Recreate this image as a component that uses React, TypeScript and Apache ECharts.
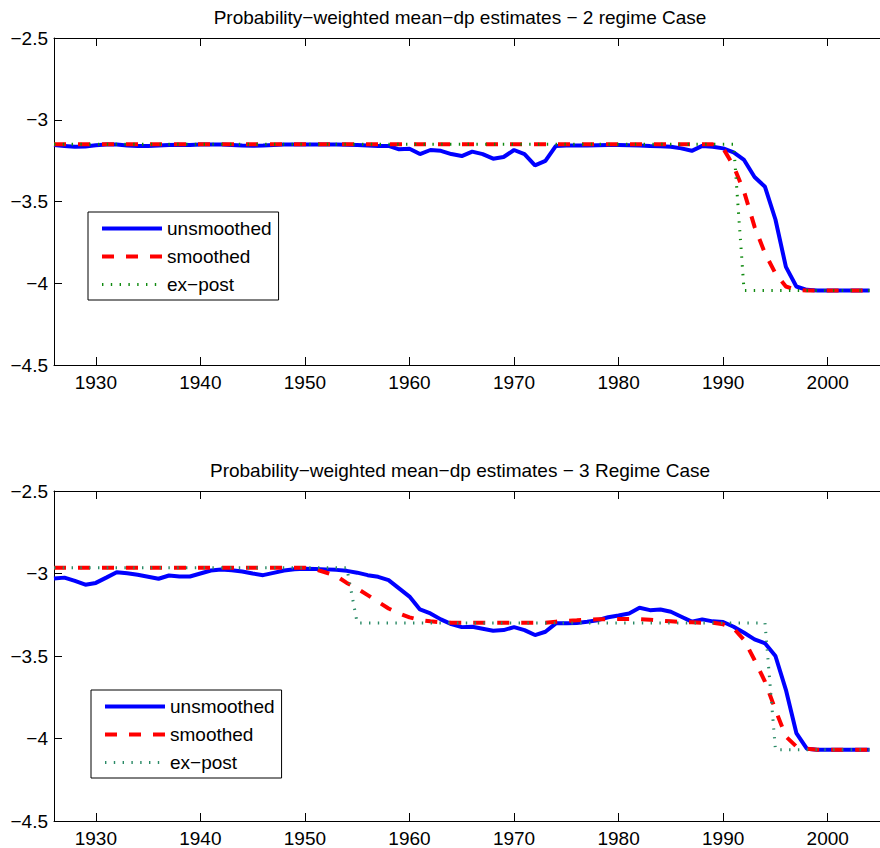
import React, { useEffect, useRef } from "react";
import * as echarts from "echarts";

const FONT = "'Liberation Sans', Arial, Helvetica, sans-serif";

const START_YEAR = 1926;
const END_YEAR = 2004;
const YEARS: number[] = [];
for (let y = START_YEAR; y <= END_YEAR; y++) YEARS.push(y);

const X_TICKS = [1930, 1940, 1950, 1960, 1970, 1980, 1990, 2000];
const TITLE_2 = "Probability\u2212weighted mean\u2212dp estimates \u2212 2 regime Case";
const TITLE_3 = "Probability\u2212weighted mean\u2212dp estimates \u2212 3 Regime Case";
const NAMES = ["unsmoothed", "smoothed", "ex\u2212post"];

// 2-regime case, 1926..2004
const UNSMOOTHED_2 = [
  -3.155, -3.160, -3.165, -3.163, -3.156, -3.152, -3.152, -3.157, -3.160, -3.160,
  -3.158, -3.155, -3.153, -3.154, -3.152, -3.152, -3.152, -3.154, -3.157, -3.159,
  -3.157, -3.154, -3.152, -3.151, -3.151, -3.151, -3.151, -3.152, -3.153, -3.155,
  -3.158, -3.160, -3.160, -3.181, -3.177, -3.210, -3.185, -3.190, -3.210, -3.222,
  -3.195, -3.210, -3.238, -3.228, -3.185, -3.210, -3.279, -3.252, -3.160, -3.158,
  -3.158, -3.157, -3.156, -3.155, -3.155, -3.156, -3.157, -3.160, -3.162, -3.165,
  -3.175, -3.190, -3.160, -3.165, -3.175, -3.200, -3.246, -3.350, -3.410, -3.610,
  -3.900, -4.020, -4.040, -4.045, -4.045, -4.045, -4.045, -4.045, -4.045,
];
const SMOOTHED_2 = [
  -3.15, -3.15, -3.15, -3.15, -3.15, -3.15, -3.15, -3.15, -3.15, -3.15,
  -3.15, -3.15, -3.15, -3.15, -3.15, -3.15, -3.15, -3.15, -3.15, -3.15,
  -3.15, -3.15, -3.15, -3.15, -3.15, -3.15, -3.15, -3.15, -3.15, -3.15,
  -3.15, -3.15, -3.15, -3.15, -3.15, -3.15, -3.15, -3.15, -3.15, -3.15,
  -3.15, -3.15, -3.15, -3.15, -3.15, -3.15, -3.15, -3.15, -3.15, -3.15,
  -3.15, -3.15, -3.15, -3.15, -3.15, -3.15, -3.15, -3.15, -3.15, -3.15,
  -3.15, -3.15, -3.15, -3.15, -3.175, -3.283, -3.440, -3.654, -3.817, -3.940,
  -4.020, -4.040, -4.045, -4.045, -4.045, -4.045, -4.045, -4.045, -4.045,
];
const EXPOST_2 = [
  -3.15, -3.15, -3.15, -3.15, -3.15, -3.15, -3.15, -3.15, -3.15, -3.15,
  -3.15, -3.15, -3.15, -3.15, -3.15, -3.15, -3.15, -3.15, -3.15, -3.15,
  -3.15, -3.15, -3.15, -3.15, -3.15, -3.15, -3.15, -3.15, -3.15, -3.15,
  -3.15, -3.15, -3.15, -3.15, -3.15, -3.15, -3.15, -3.15, -3.15, -3.15,
  -3.15, -3.15, -3.15, -3.15, -3.15, -3.15, -3.15, -3.15, -3.15, -3.15,
  -3.15, -3.15, -3.15, -3.15, -3.15, -3.15, -3.15, -3.15, -3.15, -3.15,
  -3.15, -3.15, -3.15, -3.15, -3.15, -3.15, -4.045, -4.045, -4.045, -4.045,
  -4.045, -4.045, -4.045, -4.045, -4.045, -4.045, -4.045, -4.045, -4.045,
];

// 3-regime case, 1926..2004
const UNSMOOTHED_3 = [
  -3.030, -3.025, -3.045, -3.068, -3.057, -3.025, -2.992, -2.999, -3.008, -3.020,
  -3.032, -3.012, -3.018, -3.018, -3.000, -2.982, -2.976, -2.980, -2.988, -3.000,
  -3.010, -2.996, -2.982, -2.974, -2.971, -2.972, -2.975, -2.978, -2.984, -2.995,
  -3.010, -3.020, -3.040, -3.090, -3.140, -3.218, -3.242, -3.278, -3.307, -3.325,
  -3.323, -3.335, -3.347, -3.343, -3.325, -3.343, -3.373, -3.353, -3.302, -3.302,
  -3.300, -3.293, -3.283, -3.265, -3.255, -3.242, -3.208, -3.222, -3.218, -3.232,
  -3.262, -3.292, -3.278, -3.290, -3.294, -3.323, -3.359, -3.399, -3.423, -3.500,
  -3.705, -3.967, -4.062, -4.068, -4.068, -4.068, -4.068, -4.068, -4.068,
];
const SMOOTHED_3 = [
  -2.965, -2.965, -2.965, -2.965, -2.965, -2.965, -2.965, -2.965, -2.965, -2.965,
  -2.965, -2.965, -2.965, -2.965, -2.965, -2.965, -2.965, -2.965, -2.965, -2.965,
  -2.965, -2.965, -2.965, -2.965, -2.965, -2.975, -2.994, -3.015, -3.057, -3.091,
  -3.131, -3.172, -3.212, -3.242, -3.266, -3.282, -3.290, -3.296, -3.298, -3.298,
  -3.298, -3.298, -3.298, -3.298, -3.298, -3.298, -3.298, -3.298, -3.292, -3.287,
  -3.284, -3.280, -3.278, -3.276, -3.276, -3.276, -3.276, -3.280, -3.286, -3.290,
  -3.294, -3.296, -3.298, -3.298, -3.308, -3.333, -3.403, -3.524, -3.655, -3.826,
  -3.988, -4.048, -4.062, -4.068, -4.068, -4.068, -4.068, -4.068, -4.068,
];
const EXPOST_3 = [
  -2.965, -2.965, -2.965, -2.965, -2.965, -2.965, -2.965, -2.965, -2.965, -2.965,
  -2.965, -2.965, -2.965, -2.965, -2.965, -2.965, -2.965, -2.965, -2.965, -2.965,
  -2.965, -2.965, -2.965, -2.965, -2.965, -2.965, -2.965, -2.965, -2.965, -3.300,
  -3.300, -3.300, -3.300, -3.300, -3.300, -3.300, -3.300, -3.300, -3.300, -3.300,
  -3.300, -3.300, -3.300, -3.300, -3.300, -3.300, -3.300, -3.300, -3.300, -3.300,
  -3.300, -3.300, -3.300, -3.300, -3.300, -3.300, -3.300, -3.300, -3.300, -3.300,
  -3.300, -3.300, -3.300, -3.300, -3.300, -3.300, -3.300, -3.300, -3.300, -4.068,
  -4.068, -4.068, -4.068, -4.068, -4.068, -4.068, -4.068, -4.068, -4.068,
];

const BLUE = "#0000ff";
const RED = "#ff0000";
const GREEN_TOP = "#108a10";
const GREEN_BOTTOM = "#2a8a66";

const blueStyle = { color: BLUE, width: 4, type: "solid" as const };
const redStyle = { color: RED, width: 4, type: [12, 12], cap: "butt" as const };
const greenStyle = (c: string) => ({ color: c, width: 3, type: [1.4, 7.4], cap: "butt" as const });
const hiddenSymbol = { color: "rgba(0,0,0,0)", borderWidth: 0, opacity: 0 };

function pairs(vals: number[]) {
  return YEARS.map((y, i) => [y, vals[i]]);
}

function mkX(gridIndex: number, position: "top" | "bottom") {
  return {
    type: "value",
    gridIndex,
    position,
    min: 1926,
    max: 2005,
    axisLine: { show: true, onZero: false, lineStyle: { color: "#000", width: 1 } },
    axisTick: { show: true, inside: true, length: 8, customValues: X_TICKS, lineStyle: { color: "#000", width: 1 } },
    axisLabel: {
      show: position === "bottom",
      customValues: X_TICKS,
      margin: 8,
      fontSize: 19,
      fontFamily: FONT,
      color: "#000",
      formatter: (v: number) => String(Math.round(v)),
    },
    splitLine: { show: false },
  };
}

function mkY(gridIndex: number) {
  return {
    type: "value",
    gridIndex,
    min: -4.5,
    max: -2.5,
    interval: 0.5,
    axisLine: { show: true, onZero: false, lineStyle: { color: "#000", width: 1 } },
    axisTick: { show: true, inside: true, length: 8, lineStyle: { color: "#000", width: 1 } },
    axisLabel: {
      margin: 6,
      fontSize: 19,
      fontFamily: FONT,
      color: "#000",
      showMinLabel: true,
      showMaxLabel: true,
      formatter: (v: number) => String(v).replace("-", "\u2212"),
    },
    splitLine: { show: false },
  };
}

function mkSeries(xIdx: number, yIdx: number, u: number[], s: number[], e: number[], green: string) {
  const base = { type: "line", xAxisIndex: xIdx, yAxisIndex: yIdx, symbol: "none", silent: true, smooth: false };
  return [
    { ...base, name: NAMES[0], data: pairs(u), lineStyle: blueStyle, itemStyle: { color: BLUE } },
    { ...base, name: NAMES[1], data: pairs(s), lineStyle: redStyle, itemStyle: { color: RED } },
    { ...base, name: NAMES[2], data: pairs(e), lineStyle: greenStyle(green), itemStyle: { color: green } },
  ];
}

function mkLegend(left: number, top: number, green: string) {
  return {
    left,
    top,
    orient: "vertical",
    padding: [7, 7, 6, 12],
    itemGap: 9,
    itemWidth: 60,
    itemHeight: 14,
    backgroundColor: "#fff",
    borderColor: "#000",
    borderWidth: 1,
    borderRadius: 0,
    selectedMode: false,
    textStyle: { fontSize: 19, fontFamily: FONT, color: "#000" },
    itemStyle: hiddenSymbol,
    data: [
      { name: NAMES[0], lineStyle: blueStyle, itemStyle: hiddenSymbol },
      { name: NAMES[1], lineStyle: redStyle, itemStyle: hiddenSymbol },
      { name: NAMES[2], lineStyle: greenStyle(green), itemStyle: hiddenSymbol },
    ],
  };
}

function titleText(text: string, y: number) {
  return {
    type: "text",
    x: 460,
    y,
    silent: true,
    style: {
      text,
      fontSize: 19,
      fontFamily: FONT,
      fill: "#000",
      align: "center",
      verticalAlign: "middle",
      textAlign: "center",
      textVerticalAlign: "middle",
    },
  };
}

export default function App() {
  const ref = useRef<HTMLDivElement>(null);
  useEffect(() => {
    if (!ref.current) return;
    const chart = echarts.init(ref.current, null, { renderer: "svg" });
    const option: any = {
      animation: false,
      backgroundColor: "#fff",
      grid: [
        { left: 54, top: 38, width: 834, height: 327 },
        { left: 54, top: 491, width: 834, height: 330 },
      ],
      xAxis: [mkX(0, "bottom"), mkX(0, "top"), mkX(1, "bottom"), mkX(1, "top")],
      yAxis: [mkY(0), mkY(1)],
      legend: [mkLegend(88, 212, GREEN_TOP), mkLegend(91, 690, GREEN_BOTTOM)],
      series: [
        ...mkSeries(0, 0, UNSMOOTHED_2, SMOOTHED_2, EXPOST_2, GREEN_TOP),
        ...mkSeries(2, 1, UNSMOOTHED_3, SMOOTHED_3, EXPOST_3, GREEN_BOTTOM),
      ],
      graphic: [titleText(TITLE_2, 17.4), titleText(TITLE_3, 470)],
    };
    chart.setOption(option);
    return () => chart.dispose();
  }, []);
  return (
    <div
      ref={ref}
      style={{ position: "absolute", left: 0, top: 0, width: 880, height: 848, background: "#fff" }}
    />
  );
}
